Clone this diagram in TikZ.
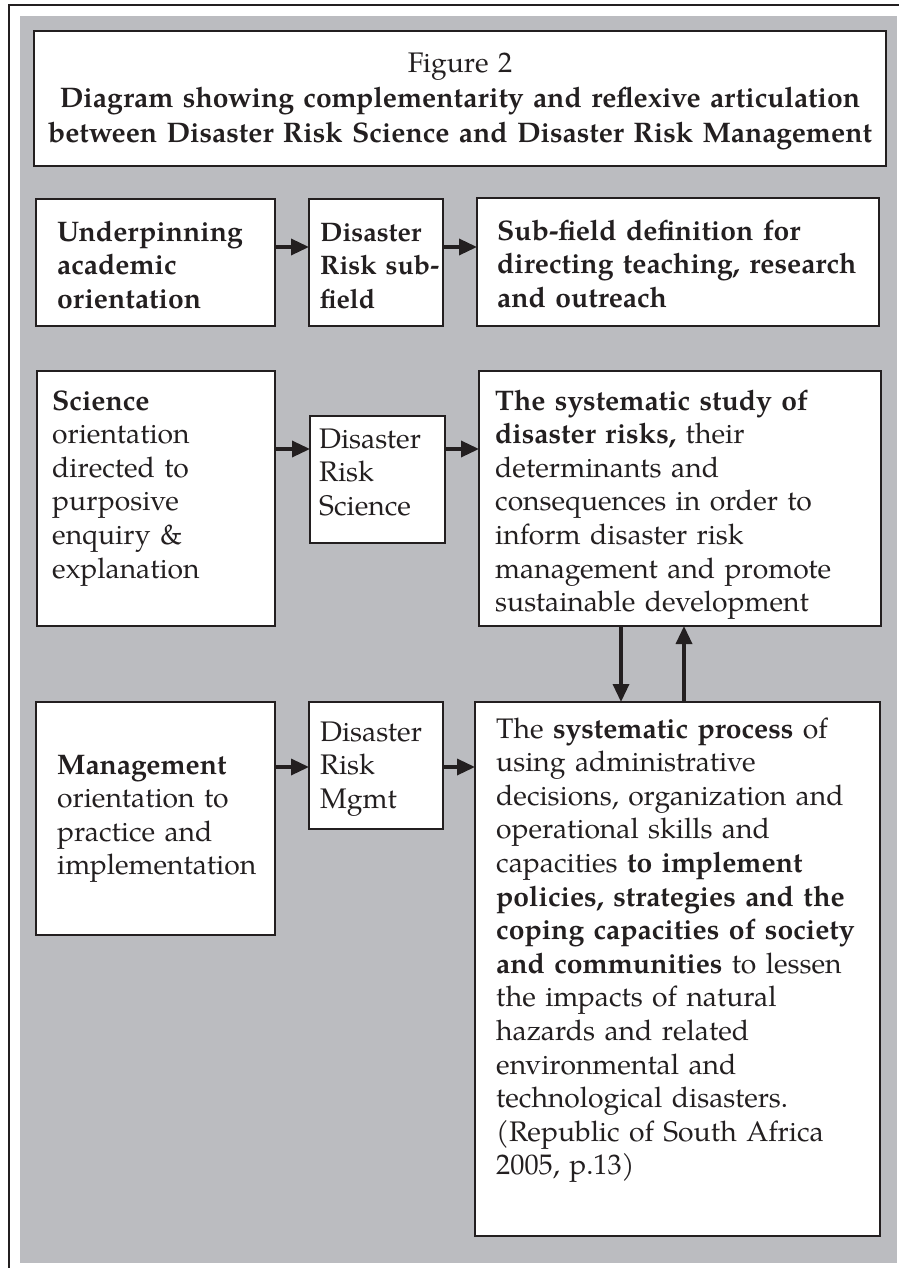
\documentclass[tikz,border=0pt]{standalone}
\usepackage{fontspec}
\setmainfont{TeX Gyre Pagella}
\usetikzlibrary{arrows.meta}
\definecolor{bg}{RGB}{187,188,192}
\definecolor{ink}{RGB}{35,31,32}
\begin{document}
\begin{tikzpicture}[x=1pt,y=-1pt,
  box/.style={draw=ink, line width=1.6pt, fill=white, inner sep=0pt, outer sep=0pt, anchor=north west},
  txt/.style={anchor=base west, inner sep=0pt, text width=#1, align=left, text=ink,
     font={\fontsize{28.3}{33.6}\selectfont}},
  arr/.style={draw=ink, line width=3.4pt, -{Triangle[length=18pt,width=16pt]}}]
\useasboundingbox (0,0) rectangle (899,1268);
\fill[bg] (20,16) rectangle (897,1263);
\draw[ink, line width=1.2pt] (9,1268) -- (9,5) -- (899,5);

% title
\node[box, minimum width=852pt, minimum height=135pt] (title) at (34,31) {};
\node[anchor=base, inner sep=0pt, text width=845pt, align=center, text=ink,
  font={\fontsize{28.3}{35}\selectfont}] (titletext) at (460,73)
  {Figure 2\\\textbf{Diagram showing complementarity and reflexive articulation}\\
   \textbf{between Disaster Risk Science and Disaster Risk Management}};

% row 1
\node[box, minimum width=239pt, minimum height=127pt] (A) at (36,199) {};
\node[box, minimum width=134pt, minimum height=127pt] (B) at (309,199) {};
\node[box, minimum width=402pt, minimum height=128pt] (C) at (477,198) {};
\node[txt=220pt] (At) at (57,241) {\textbf{Underpinning}\\\textbf{academic}\\\textbf{orientation}};
\node[txt=200pt, font={\fontsize{26.8}{33.6}\selectfont}] (Bt) at (320,241) {\textbf{Disaster}\\\mbox{\textbf{Risk sub-}}\\\textbf{field}};
\node[txt=380pt] (Ct) at (497,240) {\textbf{Sub-field definition for}\\\textbf{directing teaching, research}\\\textbf{and outreach}};

% row 2
\node[box, minimum width=238pt, minimum height=255pt] (D) at (37,371) {};
\node[box, minimum width=135pt, minimum height=127pt] (E) at (310,416) {};
\node[box, minimum width=402pt, minimum height=255pt] (F) at (479,371) {};
\node[txt=220pt] (Dt) at (52,410) {\textbf{Science}\\orientation\\directed to\\purposive\\enquiry \&\\explanation};
\node[txt=200pt] (Et) at (319,448) {Disaster\\Risk\\Science};
\node[txt=380pt] (Ft) at (495,410) {\textbf{The systematic study of}\\\textbf{disaster risks,} their\\determinants and\\consequences in order to\\inform disaster risk\\management and promote\\sustainable development};

% row 3
\node[box, minimum width=239pt, minimum height=233pt] (G) at (36,702) {};
\node[box, minimum width=134pt, minimum height=127pt] (H) at (309,702) {};
\node[box, minimum width=405pt, minimum height=534pt] (I) at (475,702) {};
\node[txt=220pt] (Gt) at (57,774) {\textbf{Management}\\orientation to\\practice and\\implementation};
\node[txt=200pt] (Ht) at (320,741) {Disaster\\Risk\\Mgmt};
\node[txt=382pt] (It) at (496,738) {The \textbf{systematic process} of\\using administrative\\decisions, organization and\\operational skills and\\capacities \textbf{to implement}\\\textbf{policies, strategies and the}\\\textbf{coping capacities of society}\\\textbf{and communities} to lessen\\the impacts of natural\\hazards and related\\environmental and\\technological disasters.\\(Republic of South Africa\\2005, p.13)};

% arrows
\coordinate (r1) at (0,247);
\coordinate (r2) at (0,449);
\coordinate (r3) at (0,767);
\coordinate (c1) at (621,0);
\coordinate (c2) at (684,0);
\draw[arr] (A.east |- r1) -- (B.west |- r1);
\draw[arr] (B.east |- r1) -- (C.west |- r1);
\draw[arr] (D.east |- r2) -- (E.west |- r2);
\draw[arr] (E.east |- r2) -- (F.west |- r2);
\draw[arr] (G.east |- r3) -- (H.west |- r3);
\draw[arr] (H.east |- r3) -- (I.west |- r3);
\draw[arr] (c1 |- F.south) -- (c1 |- I.north);
\draw[arr] (c2 |- I.north) -- (c2 |- F.south);
\end{tikzpicture}
\end{document}
